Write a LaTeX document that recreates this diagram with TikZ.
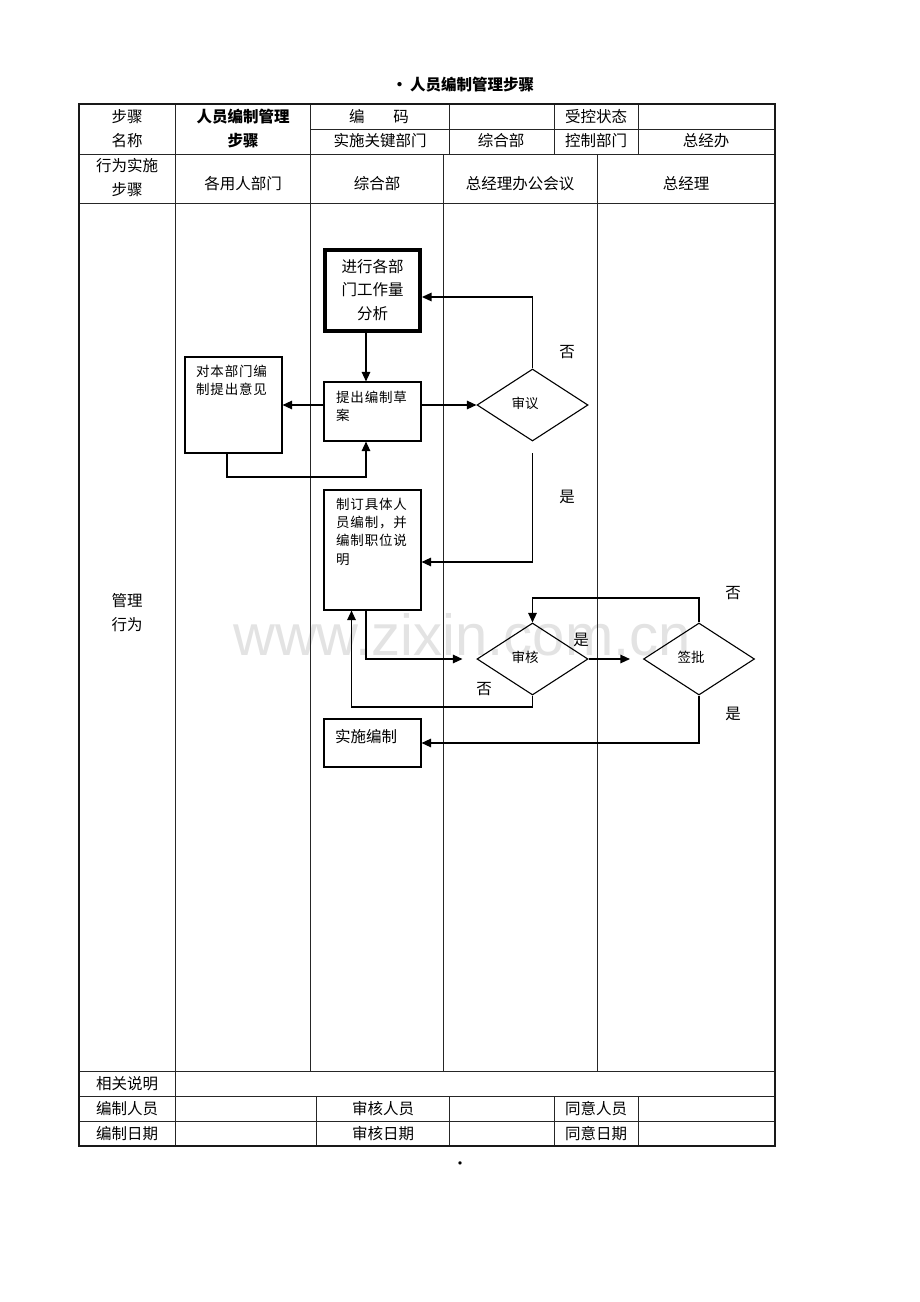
\documentclass[tikz,border=0pt]{standalone}
\usepackage{fontspec}
\setmainfont{Noto Sans CJK SC}
\newfontfamily\boxfont{Noto Sans CJK SC}[LetterSpace=6]
\newfontfamily\wmfont{Liberation Sans}
\usetikzlibrary{arrows.meta,shapes.geometric}
\begin{document}
\begin{tikzpicture}[x=1pt,y=-1pt,
  tline/.style={line width=1pt,black!85},
  touter/.style={line width=1.2pt,black!90},
  txt/.style={inner sep=0,font=\fontsize{15.5}{20}\selectfont},
  btxt/.style={inner sep=0,font=\fontsize{15.5}{20}\selectfont\bfseries},
  sbox/.style={draw,line width=1.1pt,rectangle,inner sep=0},
  dia/.style={draw,line width=1.1pt,diamond,inner sep=0,minimum width=111pt,minimum height=72pt},
  small/.style={inner sep=0,font=\boxfont\fontsize{13.5}{18.2}\selectfont,align=left,anchor=north west},
  dtxt/.style={inner sep=0,font=\fontsize{13.5}{18}\selectfont},
  arr/.style={line width=1.3pt,-{Triangle[length=9.5pt,width=8.5pt]}},
  ln/.style={line width=1.3pt}
]
\useasboundingbox[fill=white] (0,0) rectangle (920,1302);

% watermark
\node[anchor=base,inner sep=0,font=\wmfont\fontsize{58}{58}\selectfont,text=black!11] (wm) at (462,655) {www.zixin.com.cn};

% title
\node[btxt] (title) at (463,85) {·\,人员编制管理步骤};

% ---------- table lines ----------
% horizontal lines
\draw[tline] (310,129) -- (775,129);
\draw[tline] (79,154) -- (775,154);
\draw[tline] (79,203) -- (775,203);
\draw[tline] (79,1071) -- (775,1071);
\draw[tline] (79,1096) -- (775,1096);
\draw[tline] (79,1121) -- (775,1121);
% header verticals
\draw[tline] (175,104) -- (175,154);
\draw[tline] (310,104) -- (310,154);
\draw[tline] (449,104) -- (449,154);
\draw[tline] (554,104) -- (554,154);
\draw[tline] (638,104) -- (638,154);
% body verticals
\draw[tline] (175,154) -- (175,1071);
\draw[tline] (310,154) -- (310,1071);
\draw[tline] (443,154) -- (443,1071);
\draw[tline] (597,154) -- (597,1071);
% bottom verticals
\draw[tline] (175,1071) -- (175,1146);
\draw[tline] (316,1096) -- (316,1146);
\draw[tline] (449,1096) -- (449,1146);
\draw[tline] (554,1096) -- (554,1146);
\draw[tline] (638,1096) -- (638,1146);
% outer frame
\draw[touter] (79,104) rectangle (775,1146);

% ---------- table texts ----------
\node[txt] (h1) at (127,117) {步骤};
\node[txt] (h2) at (127,141) {名称};
\node[btxt] (h3) at (243,117) {人员编制管理};
\node[btxt] (h4) at (243,141) {步骤};
\node[txt] (h5) at (379,117) {编\hspace{29pt}码};
\node[txt] (h6) at (596,117) {受控状态};
\node[txt] (h7) at (380,141) {实施关键部门};
\node[txt] (h8) at (501,141) {综合部};
\node[txt] (h9) at (596,141) {控制部门};
\node[txt] (h10) at (706,141) {总经办};
\node[txt] (r1) at (127,166) {行为实施};
\node[txt] (r2) at (127,190) {步骤};
\node[txt] (r3) at (243,184) {各用人部门};
\node[txt] (r4) at (377,184) {综合部};
\node[txt] (r5) at (520,184) {总经理办公会议};
\node[txt] (r6) at (686,184) {总经理};
\node[txt] (m1) at (127,601) {管理};
\node[txt] (m2) at (127,625) {行为};
\node[txt] (b1) at (127,1084) {相关说明};
\node[txt] (b2) at (127,1109) {编制人员};
\node[txt] (b3) at (383,1109) {审核人员};
\node[txt] (b4) at (596,1109) {同意人员};
\node[txt] (b5) at (127,1134) {编制日期};
\node[txt] (b6) at (383,1134) {审核日期};
\node[txt] (b7) at (596,1134) {同意日期};

% ---------- flowchart ----------
\node[draw,line width=4pt,inner sep=0,minimum width=95pt,minimum height=81pt,align=center,font=\fontsize{15.5}{23.5}\selectfont] (A) at (372.5,290) {进行各部\\门工作量\\分析};
\node[sbox,minimum width=97pt,minimum height=59pt] (B) at (372.5,411.5) {};
\node[small] (Bt) at (336,391) {提出编制草\\案};
\node[sbox,minimum width=97pt,minimum height=96pt] (C) at (233.5,405) {};
\node[small] (Ct) at (196,365) {对本部门编\\制提出意见};
\node[dia] (D1) at (532.5,405) {};
\node[dtxt] (D1t) at (525,403) {审议};
\node[sbox,minimum width=97pt,minimum height=120pt] (E) at (372.5,550) {};
\node[small] (Et) at (336,498) {制订具体人\\员编制，并\\编制职位说\\明};
\node[dia] (D2) at (532.5,659) {};
\node[dtxt] (D2t) at (525,657) {审核};
\node[dia] (D3) at (699,659) {};
\node[dtxt] (D3t) at (691,657) {签批};
\node[sbox,minimum width=97pt,minimum height=48pt] (F) at (372.5,743) {};
\node[inner sep=0,anchor=west,font=\fontsize{15.5}{20}\selectfont] (Ft) at (335,737) {实施编制};

% helper coordinates
\coordinate (vx) at (366,0);
\coordinate (vx2) at (351.5,0);
\coordinate (vc) at (227,0);
\coordinate (y297) at (0,297);
\coordinate (y453) at (0,453);
\coordinate (y477) at (0,477);
\coordinate (y562) at (0,562);
\coordinate (y598) at (0,598);
\coordinate (y707) at (0,707);

% connectors
\draw[arr] (A.south -| vx) -- (B.north -| vx);
\draw[arr] (B.west |- C.east) -- (C.east);
\draw[arr] (C.south -| vc) -- (vc |- y477) -| (B.south -| vx);
\draw[arr] (B.east |- D1.west) -- (D1.west);
\draw[arr] (D1.north) -- (D1.north |- y297) -- (A.east |- y297);
\draw[arr] (D1.south |- y453) -- (D1.south |- y562) -- (E.east |- y562);
\draw[arr] (E.south -| vx) |- ([xshift=-14pt]D2.west);
\draw[arr] (D2.south) -- (D2.south |- y707) -| (E.south -| vx2);
\draw[arr] (D2.east) -- ([xshift=-13pt]D3.west);
\draw[arr] (D3.north) -- (D3.north |- y598) -| (D2.north);
\draw[arr] (D3.south) |- (F.east);

% branch labels
\node[txt] (l1) at (567,352) {否};
\node[txt] (l2) at (567,497) {是};
\node[txt] (l3) at (581,640) {是};
\node[txt] (l4) at (484,689) {否};
\node[txt] (l5) at (733,593) {否};
\node[txt] (l6) at (733,714) {是};

% page dot
\node[inner sep=0,font=\fontsize{16}{16}\selectfont] (dot) at (460,1166) {\textbullet};
\end{tikzpicture}
\end{document}
